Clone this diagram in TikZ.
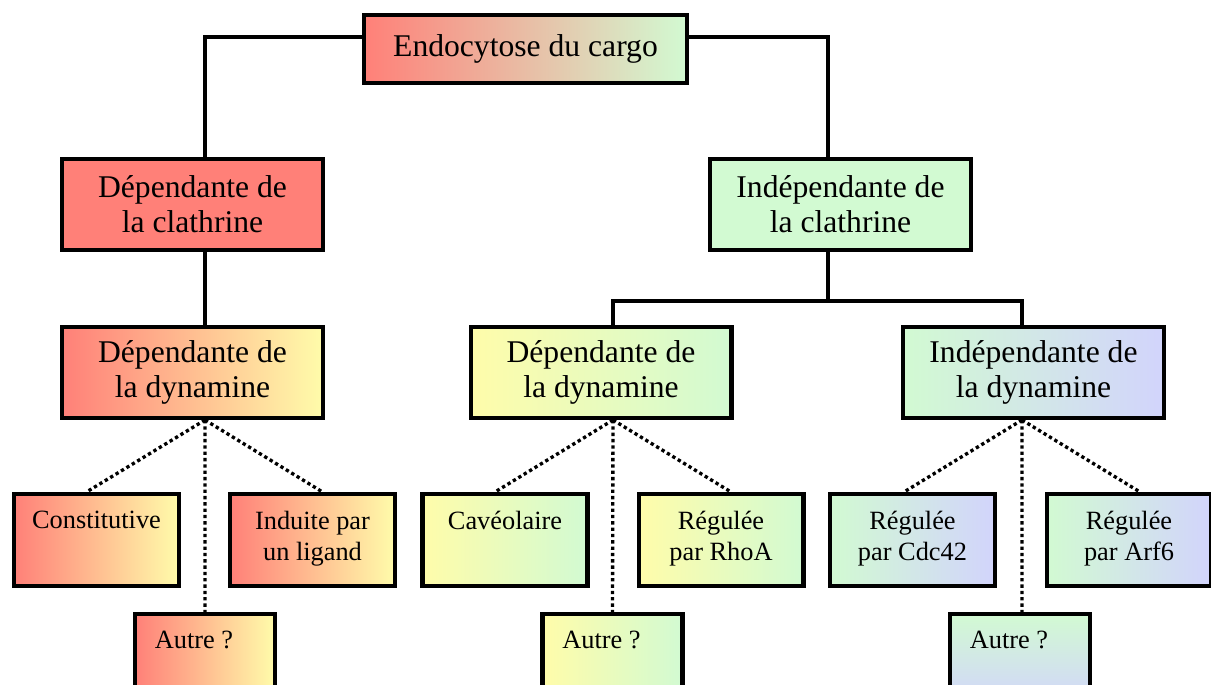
\documentclass[tikz,border=0pt]{standalone}
\usepackage{fontspec}
\setmainfont{Liberation Serif}
\usepackage{xcolor}

\definecolor{redbox}{RGB}{255,128,120}
\definecolor{yelbox}{RGB}{255,252,170}
\definecolor{grnbox}{RGB}{210,250,210}
\definecolor{lavbox}{RGB}{210,212,252}

\begin{document}
\begin{tikzpicture}[
    x=0.02cm, y=-0.02cm,
    % Define styles for the boxes
    box/.style={rectangle, draw=black, line width=2.3pt, align=center, inner sep=0pt},
    mainbox/.style={box, minimum width=6.46cm, minimum height=1.36cm, font=\fontsize{18}{20}\selectfont},
    catbox/.style={box, minimum width=5.22cm, minimum height=1.82cm, font=\fontsize{18}{20}\selectfont},
    leafbox/.style={box, minimum width=3.3cm, minimum height=1.84cm, font=\fontsize{15}{17.5}\selectfont,
        execute at end node={\rule[-5pt]{0pt}{5pt}}},
    otherbox/.style={leafbox, minimum width=2.8cm},
    % Define styles for the connectors
    link/.style={line width=2pt},
    maybe/.style={line width=1.9pt, dash pattern=on 1.9pt off 1.7pt}
]
\useasboundingbox (0,0) rectangle (1211,684);
\clip (0,0) rectangle (1211,684);

% ==========================================
% Level 1 and 2: cargo and clathrine
% ==========================================
\node[mainbox, left color=redbox, right color=grnbox] (cargo) at (525.5,49) {Endocytose du cargo};
\node[catbox, fill=redbox] (clatD) at (192.5,204.5) {Dépendante de\\la clathrine};
\node[catbox, fill=grnbox] (clatI) at (840.5,204.5) {Indépendante de\\la clathrine};

\draw[link] ([yshift=0.24cm]cargo.west) -| ([xshift=0.25cm]clatD.north);
\draw[link] ([yshift=0.24cm]cargo.east) -| ([xshift=-0.25cm]clatI.north);

% ==========================================
% Level 3: dynamine
% ==========================================
\node[catbox, left color=redbox, right color=yelbox] (dynCD) at (192.5,372.5) {Dépendante de\\la dynamine};
\node[catbox, left color=yelbox, right color=grnbox] (dynID) at (601,372.5) {Dépendante de\\la dynamine};
\node[catbox, left color=grnbox, right color=lavbox] (dynII) at (1033.5,372.5) {Indépendante de\\la dynamine};

\draw[link] ([xshift=0.25cm]clatD.south) -- ([xshift=0.25cm]dynCD.north);
\draw[link] ([xshift=-0.25cm]clatI.south) -- ++(0,49) coordinate (split);
\draw[link] ([xshift=0.24cm]dynID.north) |- (split) -| ([xshift=-0.23cm]dynII.north);

% ==========================================
% Level 4: pathways
% ==========================================
\node[leafbox, left color=redbox, right color=yelbox] (constit) at (96.5,540) {Constitutive\\\mbox{}};
\node[leafbox, left color=redbox, right color=yelbox] (ligand) at (312.5,540) {Induite par\\un ligand};
\node[otherbox, left color=redbox, right color=yelbox] (otherCD) at (205,660) {Autre ?\hspace*{0.44cm}\\\mbox{}};

\node[leafbox, left color=yelbox, right color=grnbox] (caveol) at (505,540) {Cavéolaire\\\mbox{}};
\node[leafbox, left color=yelbox, right color=grnbox] (rhoA) at (721,540) {Régulée\\par RhoA};
\node[otherbox, left color=yelbox, right color=grnbox] (otherID) at (612.5,660) {Autre ?\hspace*{0.44cm}\\\mbox{}};

\node[leafbox, left color=grnbox, right color=lavbox] (cdc42) at (912.5,540) {Régulée\\par Cdc42};
\node[leafbox, left color=grnbox, right color=lavbox] (arf6) at (1129,540) {Régulée\\par Arf6};
\node[otherbox, top color=grnbox, bottom color=lavbox] (otherII) at (1020,660) {Autre ?\hspace*{0.44cm}\\\mbox{}};

\draw[maybe] ([xshift=0.25cm]dynCD.south) -- ([xshift=-0.2cm]constit.north);
\draw[maybe] ([xshift=0.25cm]dynCD.south) -- ([xshift=0.2cm]ligand.north);
\draw[maybe] ([xshift=0.25cm]dynCD.south) -- (otherCD.north);

\draw[maybe] ([xshift=0.24cm]dynID.south) -- ([xshift=-0.2cm]caveol.north);
\draw[maybe] ([xshift=0.24cm]dynID.south) -- ([xshift=0.2cm]rhoA.north);
\draw[maybe] ([xshift=0.24cm]dynID.south) -- (otherID.north);

\draw[maybe] ([xshift=-0.23cm]dynII.south) -- ([xshift=-0.17cm]cdc42.north);
\draw[maybe] ([xshift=-0.23cm]dynII.south) -- ([xshift=0.22cm]arf6.north);
\draw[maybe] ([xshift=-0.23cm]dynII.south) -- ([xshift=0.04cm]otherII.north);

\end{tikzpicture}
\end{document}
